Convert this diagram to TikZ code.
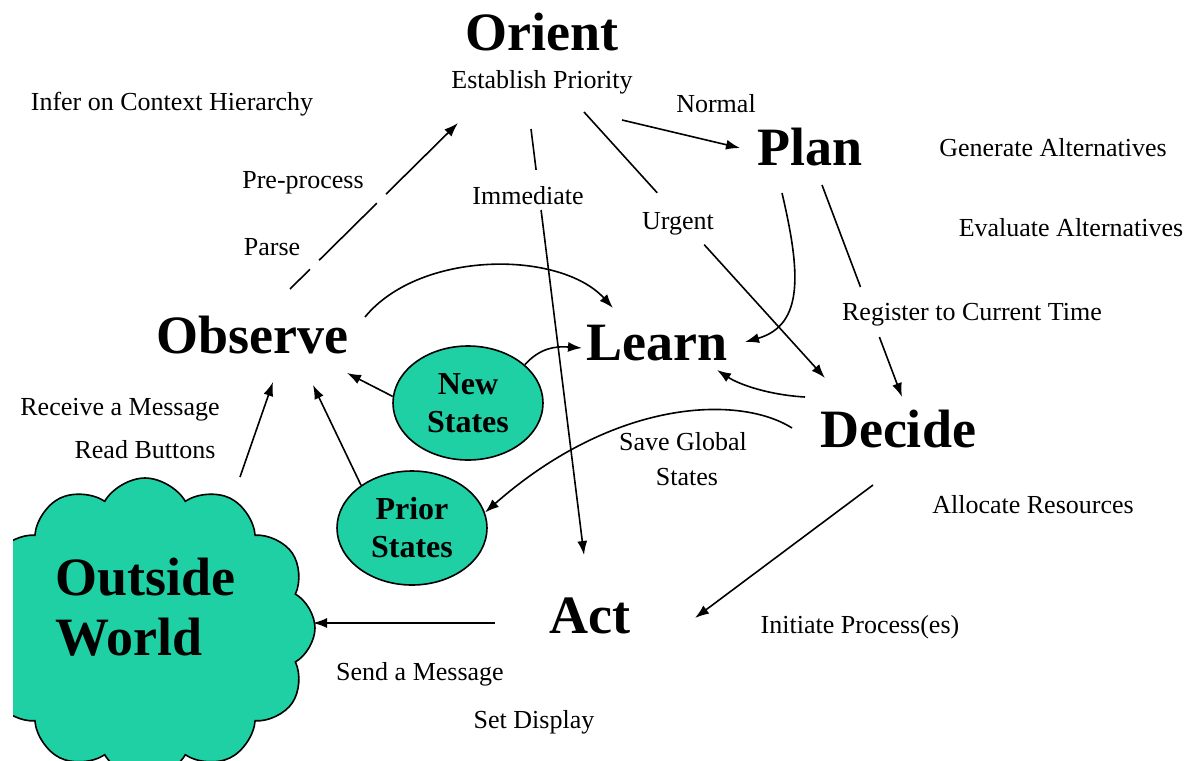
\documentclass[tikz,border=0pt]{standalone}
\usepackage{fontspec}
\setmainfont{Liberation Serif}
\usetikzlibrary{arrows.meta,calc,shapes.geometric,shapes.symbols}
\definecolor{seagreen}{RGB}{30,208,164}
\begin{document}
\begin{tikzpicture}[x=.5pt,y=-.5pt,line width=.8pt,>={Latex[length=7pt,width=5pt]},
	phase/.style={font=\fontsize{27}{30}\selectfont\bfseries,anchor=base},
	lbl/.style={font=\fontsize{13}{18}\selectfont,anchor=base,align=center},
	state/.style={ellipse,draw,fill=seagreen,minimum width=75pt,minimum height=57pt,align=center,inner sep=0pt,font=\fontsize{16}{19}\selectfont\bfseries}]
	\useasboundingbox(0,0)rectangle(1192,760);
	% outside world
	\begin{scope}
		\clip(13,0)rectangle(1192,760);
		\node[cloud,cloud puffs=12,cloud puff arc=120,cloud ignores aspect,draw,fill=seagreen,minimum width=170pt,minimum height=150pt](world)at(145,628){};
	\end{scope}
	\node[font=\fontsize{27}{30}\selectfont\bfseries,align=left,anchor=west,inner sep=0pt](wld)at(55,607){Outside\\World};
	% phases
	\node[phase](ori)at(542,50){Orient};
	\node[phase](plan)at(810,165){Plan};
	\node[phase](obs)at(252,353){Observe};
	\node[phase](learn)at(657,360){Learn};
	\node[phase](dec)at(898,447){Decide};
	\node[phase](act)at(590,633){Act};
	% labels
	\foreach \n/\x/\y/\t in {est/542/88/Establish Priority,infer/172/110/Infer on Context Hierarchy,
		norm/716/112/Normal,gen/1053/156/Generate Alternatives,pre/303/188/Pre-process,
		imm/528/204/Immediate,urg/678/229/Urgent,eval/1071/236/Evaluate Alternatives,
		parse/272/255/Parse,reg/972/320/Register to Current Time,recv/120/415/Receive a Message,
		read/145/458/Read Buttons,save/683/450/Save Global,glob/687/485/States,
		alloc/1033/513/Allocate Resources,init/860/633/Initiate Process(es),
		send/420/680/Send a Message,disp/534/728/Set Display}{
		\node[lbl](\n)at(\x,\y){\t};
	}
	% states
	\node[state](new)at(468,403){New\\States};
	\node[state](prior)at(412,528){Prior\\States};
	% connectors
	\draw[->,dash pattern=on 14pt off 6.5pt on 40.5pt off 6.5pt on 200pt off 1pt]($(obs.base)+(38,-64)$)--($(est.base)+(-84,35)$);
	\draw[->]($(est.base)+(80,32)$)--($(plan.base)+(-70,-17)$);
	\draw[->,dash pattern=on 20.6pt off 20.2pt on 400pt off 1pt]($(est.base)+(-11,41)$)--($(act.base)+(-6,-78)$);
	\draw[->,dash pattern=on 54.5pt off 35pt on 300pt off 1pt]($(est.base)+(42,24)$)--($(dec.base)+(-73,-69)$);
	\draw[->]($(plan.base)+(-28,28)$)..controls(800,270)and(805,325)..($(learn.base)+(88,-18)$);
	\draw[->,dash pattern=on 54.5pt off 26.75pt on 200pt off 1pt]($(plan.base)+(12,20)$)--($(dec.base)+(4,-50)$);
	\draw[->]($(obs.base)+(113,-36)$)..controls(420,250)and(560,250)..($(learn.base)+(-44,-52)$);
	\draw[->](new.34)..controls(540,348)and(555,346)..($(learn.base)+(-75,-12)$);
	\draw[->](new.175)--($(obs.base)+(95,20)$);
	\draw[->](prior.140)--($(obs.base)+(61,32)$);
	\draw[->]($(world)+(95,-151)$)--($(obs.base)+(21,29)$);
	\draw[->]($(dec.base)+(-93,-50)$)..controls(770,395)and(740,385)..($(learn.base)+(60,10)$);
	\draw[->]($(dec.base)+(-106,-19)$)..controls(740,395)and(615,398)..(prior.12);
	\draw[->]($(dec.base)+(-25,38)$)--($(act.base)+(105,-15)$);
	\draw[->]($(act.base)+(-95,-10)$)--($(world)+(168,-5)$);
\end{tikzpicture}
\end{document}
